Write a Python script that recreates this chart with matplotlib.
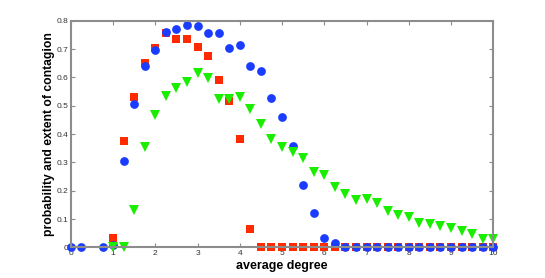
import numpy as np
import matplotlib
matplotlib.use('Agg')
import matplotlib.pyplot as plt

plt.rcParams['font.family'] = ['Liberation Sans', 'DejaVu Sans']

# blue circles (x=0.5 missing in the original)
blue_x = [0, 0.25, 0.75, 1.0, 1.25, 1.5, 1.75, 2.0, 2.25, 2.5, 2.75, 3.0, 3.25, 3.5,
          3.75, 4.0, 4.25, 4.5, 4.75, 5.0, 5.25, 5.5, 5.75, 6.0, 6.25] + \
         [6.5, 6.75, 7.0, 7.25, 7.5, 7.75, 8.0, 8.25, 8.5, 8.75, 9.0, 9.25, 9.5, 9.75, 10.0]
blue_y = [0, 0, 0, 0.007, 0.305, 0.505, 0.641, 0.696, 0.762, 0.771, 0.786, 0.781, 0.756,
          0.757, 0.703, 0.716, 0.641, 0.623, 0.527, 0.460, 0.359, 0.220, 0.120, 0.035,
          0.014] + [0] * 15

# red squares
red_x = [1.0, 1.25, 1.5, 1.75, 2.0, 2.25, 2.5, 2.75, 3.0, 3.25, 3.5, 3.75, 4.0, 4.25] + \
        [4.5, 4.75, 5.0, 5.25, 5.5, 5.75, 6.0, 6.25, 6.5, 6.75, 7.0, 7.25, 7.5, 7.75,
         8.0, 8.25, 8.5, 8.75, 9.0, 9.25, 9.5, 9.75, 10.0]
red_y = [0.032, 0.374, 0.530, 0.650, 0.703, 0.758, 0.737, 0.737, 0.707, 0.676, 0.592,
         0.517, 0.382, 0.064] + [0] * 23

# green triangles
green_x = [1.0, 1.25, 1.5, 1.75, 2.0, 2.25, 2.5, 2.75, 3.0, 3.25, 3.5, 3.75, 4.0, 4.25,
           4.5, 4.75, 5.0, 5.25, 5.5, 5.75, 6.0, 6.25, 6.5, 6.75, 7.0, 7.25, 7.5, 7.75,
           8.0, 8.25, 8.5, 8.75, 9.0, 9.25, 9.5, 9.75, 10.0]
green_y = [0.0, 0.003, 0.132, 0.356, 0.469, 0.534, 0.562, 0.583, 0.615, 0.597, 0.525,
           0.525, 0.530, 0.487, 0.436, 0.383, 0.354, 0.336, 0.315, 0.268, 0.257, 0.212,
           0.189, 0.169, 0.170, 0.156, 0.130, 0.116, 0.106, 0.087, 0.083, 0.074, 0.070,
           0.057, 0.049, 0.030, 0.030]

fig = plt.figure(figsize=(5.45, 2.78), dpi=100)
ax = fig.add_axes([0.13, 0.11, 0.775, 0.815])

ax.plot(red_x, red_y, 's', color='#ff2a00', markersize=5.8, markeredgewidth=0, clip_on=False)
ax.plot(blue_x, blue_y, 'o', color='#1a3cff', markersize=6.3, markeredgewidth=0, clip_on=False)
ax.plot(green_x, green_y, 'v', color='#1aee00', markersize=7.8, markeredgewidth=0, clip_on=False)

ax.set_xlim(0, 10)
ax.set_ylim(0, 0.8)
ax.set_xticks(range(0, 11))
ax.set_yticks([0, 0.1, 0.2, 0.3, 0.4, 0.5, 0.6, 0.7, 0.8])
ax.set_yticklabels(['0', '0.1', '0.2', '0.3', '0.4', '0.5', '0.6', '0.7', '0.8'])

for s in ax.spines.values():
    s.set_color('#8c8c8c')
    s.set_linewidth(1.5)
ax.tick_params(direction='in', top=True, right=True, length=3, width=0.8,
               color='#8c8c8c', labelsize=6, labelcolor='#333333', pad=2)

ax.set_xlabel('average degree', fontsize=9, fontweight='bold', labelpad=2)
ax.set_ylabel('probability and extent of contagion', fontsize=8.7, fontweight='bold', labelpad=1)

fig.savefig('out.png', dpi=100)
